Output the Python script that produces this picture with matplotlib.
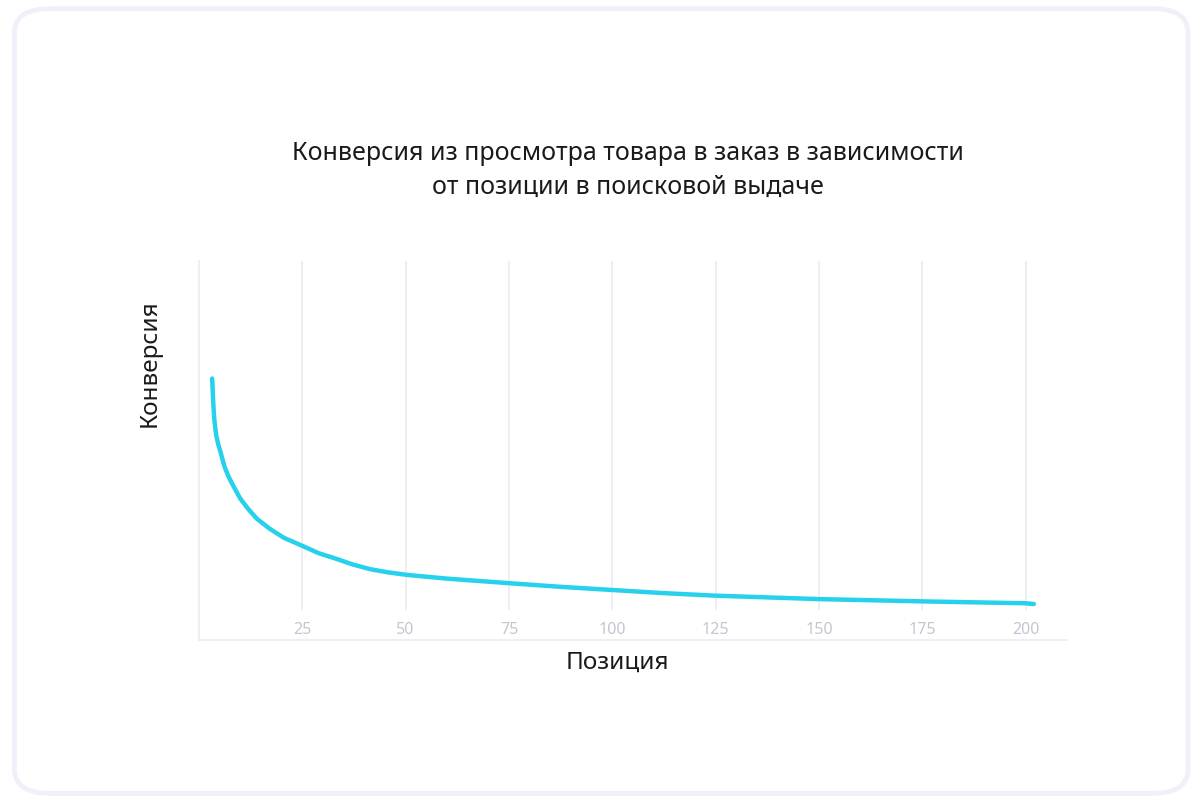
import matplotlib
matplotlib.use('Agg')
import matplotlib.pyplot as plt
from matplotlib.patches import FancyBboxPatch

# ============================================================
# DATA
# ============================================================

POSITION = [3.2, 3.45, 3.7, 3.95, 4.2, 4.7, 5.25, 5.8, 6.4, 7.3, 8.3, 10, 11.9, 14, 17.2,
            20.5, 24.9, 29, 33.3, 37, 41.4, 45.5, 50.2, 60, 75, 88, 100, 112, 125,
            150, 175, 200, 202]
CONVERSION = [69.0, 62.7, 58.3, 55.9, 53.9, 51.5, 49.5, 47.2, 45.1, 42.8, 40.7, 37.3, 34.6,
              32.0, 29.3, 27.0, 24.9, 22.9, 21.4, 20.0, 18.7, 17.9, 17.2, 16.2, 15.0, 14.0,
              13.2, 12.4, 11.7, 10.8, 10.2, 9.7, 9.5]
TICKS = [25, 50, 75, 100, 125, 150, 175, 200]

TITLE = "Конверсия из просмотра товара в заказ в зависимости\nот позиции в поисковой выдаче"
XLABEL = "Позиция"
YLABEL = "Конверсия"

LINE_COLOR = "#27d1eb"
GRID_COLOR = "#ececf0"
TICK_COLOR = "#c3c6d2"
TEXT_COLOR = "#1a1a1a"

plt.rcParams['font.family'] = ['Noto Sans', 'DejaVu Sans']

fig = plt.figure(figsize=(12, 8.04), dpi=100)

# rounded card border
card = FancyBboxPatch((0.012, 0.012), 0.978, 0.976,
                      boxstyle="round,pad=0,rounding_size=0.03",
                      transform=fig.transFigure, facecolor="none",
                      edgecolor="#eef2f8", linewidth=3.5, zorder=-1)
fig.patches.append(card)

ax = fig.add_axes([0.1658, 0.2027, 0.7233, 0.4714])
ax.set_facecolor("none")

ax.set_xlim(0, 210)
ax.set_ylim(0, 100)

for t in TICKS:
    ax.axvline(t, ymin=0.082, ymax=1, color=GRID_COLOR, linewidth=1.2, zorder=1)

ax.plot(POSITION, CONVERSION, color=LINE_COLOR, linewidth=3.2,
        solid_capstyle="round", solid_joinstyle="round", zorder=3)

for side in ["top", "right"]:
    ax.spines[side].set_visible(False)
for side in ["left", "bottom"]:
    ax.spines[side].set_color(GRID_COLOR)
    ax.spines[side].set_linewidth(1.2)

ax.set_xticks(TICKS)
ax.set_xticklabels([str(t) for t in TICKS])
ax.tick_params(axis="x", length=0, pad=-14, labelsize=11.5, labelcolor=TICK_COLOR)
ax.set_yticks([])

# axis titles placed like in the reference (y title sits above centre)
fig.text(617 / 1200, 1 - 663 / 804, XLABEL, ha="center", va="center",
         fontsize=17.5, color=TEXT_COLOR)
fig.text(150 / 1200, 1 - 363 / 804, YLABEL, ha="center", va="center",
         rotation=90, fontsize=17.5, color=TEXT_COLOR)

fig.text(628 / 1200, 0.788, TITLE, ha="center", va="center", fontsize=18,
         color=TEXT_COLOR, linespacing=1.5)

plt.savefig("out.png", dpi=100)
